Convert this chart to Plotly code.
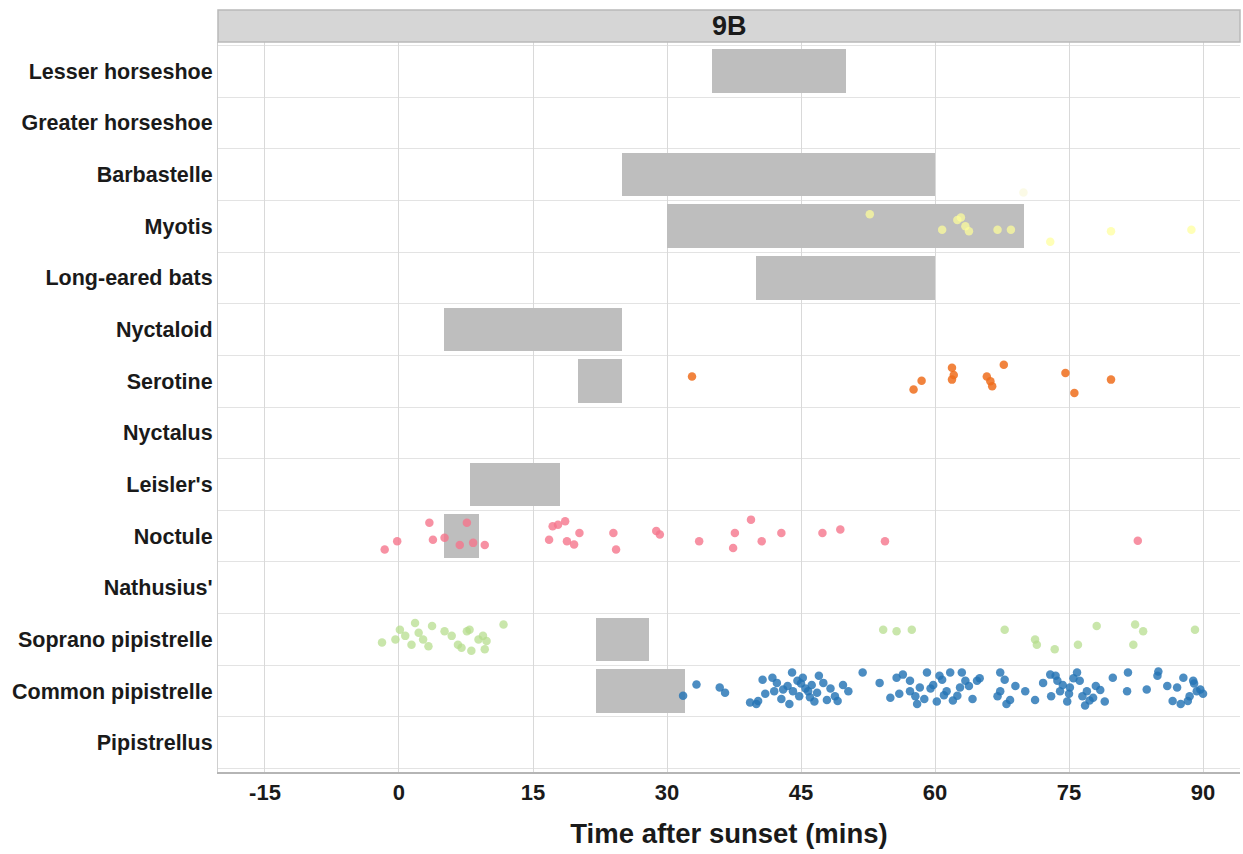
import plotly.graph_objects as go

species = ["Lesser horseshoe", "Greater horseshoe", "Barbastelle", "Myotis",
           "Long-eared bats", "Nyctaloid", "Serotine", "Nyctalus", "Leisler's",
           "Noctule", "Nathusius'", "Soprano pipistrelle", "Common pipistrelle",
           "Pipistrellus"]

# grey emergence windows (start, end in minutes after sunset); None = no window
win_start = [35, None, 25, 30, 40, 5, 20, None, 8, 5, None, 22, 22, None]
win_end   = [50, None, 60, 70, 60, 25, 25, None, 18, 9, None, 28, 32, None]

# recorded passes (minutes after sunset) and vertical jitter (row units)
myotis_x = [52.7, 60.8, 62.5, 62.9, 63.4, 63.8, 67.0, 68.5, 72.9, 79.7, 88.7]
myotis_j = [-0.23, 0.07, -0.12, -0.17, 0.00, 0.10, 0.07, 0.07, 0.30, 0.10, 0.07]

barb_x = [69.9]
barb_j = [0.35]

serotine_x = [32.8, 57.6, 58.5, 61.9, 61.9, 62.1, 65.8, 66.2, 66.4, 67.7, 74.6, 75.6, 79.7]
serotine_j = [-0.09, 0.16, -0.01, -0.26, -0.03, -0.12, -0.09, 0.00, 0.10, -0.32, -0.16, 0.23, -0.03]

noctule_x = [-1.6, -0.2, 3.4, 3.8, 5.1, 6.8, 7.6, 8.3, 9.6, 16.8, 17.2, 17.8, 18.6,
             18.8, 19.6, 20.2, 24.0, 24.3, 28.8, 29.2, 33.6, 37.6, 37.4, 39.4,
             40.6, 42.8, 47.4, 49.4, 54.4, 82.7]
noctule_j = [0.26, 0.10, -0.26, 0.07, 0.03, 0.17, -0.26, 0.13, 0.17, 0.07, -0.19,
             -0.22, -0.29, 0.10, 0.16, -0.06, -0.06, 0.26, -0.10, -0.03, 0.10,
             -0.06, 0.23, -0.32, 0.10, -0.06, -0.06, -0.13, 0.10, 0.09]

soprano_x = [-1.9, -0.4, 0.1, 0.7, 1.4, 1.8, 2.2, 2.7, 3.3, 3.7, 5.1, 5.9, 6.6, 7.0,
             7.6, 7.9, 8.1, 8.9, 9.4, 9.6, 9.8, 11.7, 54.2, 55.7, 57.4, 67.8, 71.2,
             71.4, 73.4, 76.0, 78.1, 82.4, 83.3, 82.2, 89.1]
soprano_j = [0.06, 0.00, -0.19, -0.07, 0.10, -0.32, -0.13, 0.00, 0.13, -0.26, -0.16,
             -0.07, 0.10, 0.16, -0.16, -0.19, 0.22, 0.00, -0.07, 0.19, 0.03, -0.29,
             -0.19, -0.16, -0.19, -0.19, 0.00, 0.10, 0.19, 0.10, -0.26, -0.29, -0.16,
             0.10, -0.19]

common_x = [31.8, 33.3, 35.9, 36.5, 39.3, 40.0, 40.2, 40.7, 41.0, 41.8, 42.0, 42.3,
            42.8, 43.0, 43.5, 43.7, 44.0, 44.1, 44.6, 44.8, 45.0, 45.2, 45.5, 45.8,
            46.0, 46.2, 46.5, 46.8, 47.0, 47.5, 47.9, 48.3, 48.8, 49.1, 49.7, 50.3,
            51.9, 53.8, 55.0, 55.7, 56.0, 56.4, 57.2, 57.2, 57.8, 58.0, 58.3, 58.8,
            59.1, 59.5, 59.8, 60.2, 60.5, 60.8, 61.0, 61.3, 61.7, 62.0, 62.5, 62.8,
            63.0, 63.4, 63.8, 64.2, 64.7, 65.0, 67.0, 67.3, 67.3, 67.8, 68.0, 68.4,
            69.0, 70.1, 71.2, 72.1, 72.9, 73.0, 73.5, 73.7, 74.0, 74.3, 74.8, 75.0,
            75.1, 75.5, 75.9, 76.2, 76.5, 76.8, 77.0, 77.3, 77.7, 78.0, 78.5, 79.0,
            79.9, 81.5, 81.6, 83.7, 84.9, 85.0, 86.0, 86.6, 87.1, 87.5, 87.8, 88.3,
            88.5, 88.9, 89.0, 89.3, 89.7, 90.0]
common_j = [0.09, -0.13, -0.07, 0.03, 0.22, 0.25, 0.19, -0.22, 0.05, -0.26, 0.00, -0.16,
            0.15, -0.03, -0.10, 0.25, -0.36, 0.00, -0.20, 0.10, -0.15, -0.26, -0.05, 0.00,
            0.12, -0.12, 0.20, 0.03, -0.30, -0.16, 0.17, -0.05, 0.10, 0.19, -0.12, 0.00,
            -0.36, -0.16, 0.13, -0.26, 0.05, -0.32, 0.00, -0.20, 0.10, 0.25, -0.07, 0.15,
            -0.36, -0.05, -0.12, 0.20, -0.30, -0.22, 0.08, 0.00, -0.36, 0.18, 0.09, -0.07,
            -0.36, -0.20, -0.10, 0.15, -0.20, -0.25, 0.10, -0.36, 0.00, -0.22, 0.25, 0.17,
            -0.10, 0.00, 0.17, -0.16, -0.32, 0.10, -0.30, -0.20, 0.00, -0.12, 0.20, 0.05,
            -0.07, -0.25, -0.36, -0.20, 0.10, 0.28, 0.00, 0.18, 0.13, -0.10, -0.02, 0.20,
            -0.26, 0.00, -0.36, -0.03, -0.30, -0.38, -0.10, 0.19, -0.07, 0.25, -0.26, 0.19,
            0.10, -0.20, -0.15, 0.00, -0.03, 0.05]

point_series = [
    ("Barbastelle", barb_x, barb_j, "#f6f3c8", 0.45),
    ("Myotis", myotis_x, myotis_j, "#ffff99", 0.7),
    ("Serotine", serotine_x, serotine_j, "#ee6d1c", 0.85),
    ("Noctule", noctule_x, noctule_j, "#f5768c", 0.8),
    ("Soprano pipistrelle", soprano_x, soprano_j, "#b4dd8a", 0.72),
    ("Common pipistrelle", common_x, common_j, "#2474b4", 0.82),
]

x_ticks = [-15, 0, 15, 30, 45, 60, 75, 90]

fig = go.Figure()

# grey windows as horizontal bars
bar_y, bar_base, bar_len = [], [], []
for i, (s, e) in enumerate(zip(win_start, win_end)):
    if s is not None:
        bar_y.append(i)
        bar_base.append(s)
        bar_len.append(e - s)
fig.add_trace(go.Bar(y=bar_y, x=bar_len, base=bar_base, orientation="h",
                     width=0.84, marker=dict(color="#bebebe", line=dict(width=0)),
                     hoverinfo="skip", showlegend=False))

for name, xs, js, col, op in point_series:
    idx = species.index(name)
    fig.add_trace(go.Scatter(x=xs, y=[idx + j for j in js], mode="markers",
                             marker=dict(color=col, size=8.5, opacity=op, line=dict(width=0)),
                             showlegend=False, name=name))

font_family = "Liberation Sans, Arial, sans-serif"

fig.update_layout(
    width=1243, height=854,
    margin=dict(l=218, r=3, t=42, b=82),
    paper_bgcolor="white", plot_bgcolor="white",
    font=dict(family=font_family, color="#1a1a1a"),
    bargap=0,
    xaxis=dict(range=[-20.26, 94.14], tickvals=x_ticks, ticktext=[str(t) for t in x_ticks],
               showgrid=True, gridcolor="#d9d9d9", gridwidth=1, zeroline=False,
               showline=True, linecolor="#b5b5b5", linewidth=1.5, ticks="",
               tickfont=dict(size=22, weight="bold", color="#1a1a1a"),
               title=dict(text="Time after sunset (mins)", standoff=20,
                          font=dict(size=27.5, weight="bold", color="#1a1a1a"))),
    yaxis=dict(range=[13.565, -0.565], tickvals=list(range(len(species))), ticktext=species,
               showgrid=False, zeroline=False, ticks="",
               showline=True, linecolor="#cfcfcf", linewidth=1,
               tickfont=dict(size=21.5, weight="bold", color="#1a1a1a"),
               minor=dict(tick0=0.5, dtick=1, showgrid=True, gridcolor="#e3e3e3",
                          gridwidth=1, ticks="")),
)

# facet strip
fig.add_shape(type="rect", xref="paper", yref="paper", x0=0, x1=1, y0=1.0, y1=1 + 32 / 730,
              fillcolor="#d6d6d6", line=dict(color="#b9b9b9", width=1.5), layer="above")
fig.add_annotation(xref="paper", yref="paper", x=0.5, y=1 + 16 / 730, text="<b>9B</b>",
                   showarrow=False, font=dict(size=27, color="#1a1a1a", family=font_family),
                   xanchor="center", yanchor="middle")

fig.write_html("out.html")
